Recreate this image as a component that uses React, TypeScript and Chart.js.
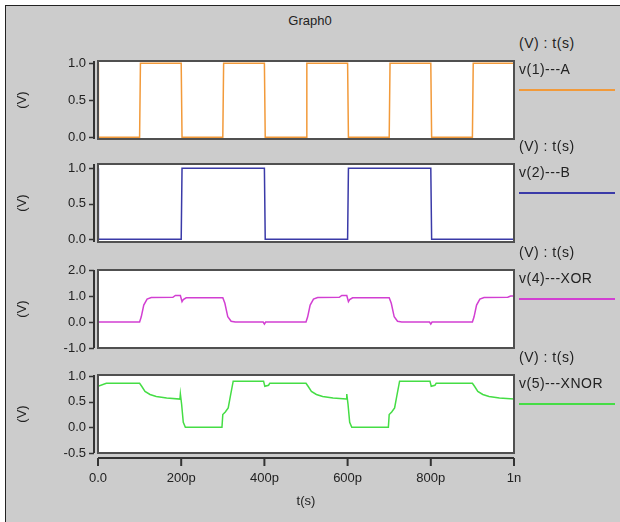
import React, { useEffect, useRef } from "react";
import { Chart, registerables } from "chart.js";
Chart.register(...registerables);

// ---- data (time in ps, values in V) ----
const timeTicks = [0, 200, 400, 600, 800, 1000];
const timeTickLabels = ["0.0", "200p", "400p", "600p", "800p", "1n"];

const aTime = [0, 1, 100, 102, 200, 202, 300, 302, 400, 402, 500, 502, 600, 602, 700, 702, 800, 802, 900, 902, 1000];
const aVolts = [1, 0, 0, 1, 1, 0, 0, 1, 1, 0, 0, 1, 1, 0, 0, 1, 1, 0, 0, 1, 1];

const bTime = [0, 1, 200, 202, 400, 402, 600, 602, 800, 802, 1000];
const bVolts = [1, 0, 0, 1, 1, 0, 0, 1, 1, 0, 0];

const xorTime = [
  0, 100, 104, 110, 118, 128, 180, 186, 198, 202, 205, 212,
  300, 305, 312, 320, 330, 397, 400, 403,
  500, 504, 510, 518, 528, 580, 586, 598, 602, 605, 612,
  700, 705, 712, 720, 730, 797, 800, 803,
  900, 904, 910, 918, 928, 985, 992, 1000,
];
const xorVolts = [
  0, 0, 0.2, 0.65, 0.88, 0.94, 0.95, 1.02, 1.02, 0.78, 0.86, 0.93,
  0.93, 0.72, 0.2, 0.03, 0, 0, -0.08, 0,
  0, 0.2, 0.65, 0.88, 0.94, 0.95, 1.02, 1.02, 0.78, 0.86, 0.93,
  0.93, 0.72, 0.2, 0.03, 0, 0, -0.08, 0,
  0, 0.2, 0.65, 0.88, 0.94, 0.95, 1.0, 1.0,
];

const xnorTime = [
  0, 20, 100, 105, 113, 125, 140, 165, 197, 198, 201, 205, 210,
  298, 300, 306, 313, 318, 325, 398, 401, 410, 413,
  500, 505, 513, 525, 540, 565, 597, 598, 601, 605, 610,
  698, 700, 706, 713, 718, 725, 798, 801, 810, 813,
  900, 905, 913, 925, 940, 965, 1000,
];
const xnorVolts = [
  0.8, 0.86, 0.86, 0.8, 0.7, 0.64, 0.6, 0.57, 0.55, 0.65, 0.45, 0.1, 0,
  0, 0.25, 0.3, 0.38, 0.6, 0.9, 0.9, 0.8, 0.82, 0.86,
  0.86, 0.8, 0.7, 0.64, 0.6, 0.57, 0.55, 0.65, 0.45, 0.1, 0,
  0, 0.25, 0.3, 0.38, 0.6, 0.9, 0.9, 0.8, 0.82, 0.86,
  0.86, 0.8, 0.7, 0.64, 0.6, 0.57, 0.55,
];

const yTicksAB = [0, 0.5, 1];
const yTickLabelsAB = ["0.0", "0.5", "1.0"];
const yTicksXor = [-1, 0, 1, 2];
const yTickLabelsXor = ["-1.0", "0.0", "1.0", "2.0"];
const yTicksXnor = [-0.5, 0, 0.5, 1];
const yTickLabelsXnor = ["-0.5", "0.0", "0.5", "1.0"];

const seriesNames = ["v(1)---A", "v(2)---B", "v(4)---XOR", "v(5)---XNOR"];
const seriesColors = ["#f29a3a", "#3a3aa8", "#d23fd2", "#45dd45"];

const FONT = "'Liberation Sans', Arial, Helvetica, sans-serif";
const TEXT = "#222222";

type PanelDef = {
  top: number;
  name: string;
  color: string;
  time: number[];
  volts: number[];
  yMin: number;
  yMax: number;
  yTicks: number[];
  yTickLabels: string[];
  showX: boolean;
};

const panels: PanelDef[] = [
  { top: 61, name: seriesNames[0], color: seriesColors[0], time: aTime, volts: aVolts, yMin: -0.025, yMax: 1.03, yTicks: yTicksAB, yTickLabels: yTickLabelsAB, showX: false },
  { top: 164, name: seriesNames[1], color: seriesColors[1], time: bTime, volts: bVolts, yMin: -0.04, yMax: 1.06, yTicks: yTicksAB, yTickLabels: yTickLabelsAB, showX: false },
  { top: 270, name: seriesNames[2], color: seriesColors[2], time: xorTime, volts: xorVolts, yMin: -1, yMax: 2, yTicks: yTicksXor, yTickLabels: yTickLabelsXor, showX: false },
  { top: 375, name: seriesNames[3], color: seriesColors[3], time: xnorTime, volts: xnorVolts, yMin: -0.5, yMax: 1.02, yTicks: yTicksXnor, yTickLabels: yTickLabelsXnor, showX: true },
];

const PANEL_H = 78;
const PAD = 10;
const X_AXIS_H = 62;

function framePlugin(showX: boolean) {
  return {
    id: "frame" + (showX ? "x" : ""),
    beforeDatasetsDraw(chart: any) {
      const { ctx, chartArea: a } = chart;
      ctx.save();
      ctx.fillStyle = "#ffffff";
      ctx.fillRect(a.left, a.top, a.right - a.left, a.bottom - a.top);
      ctx.restore();
    },
    afterDraw(chart: any) {
      const { ctx, chartArea: a, scales } = chart;
      ctx.save();
      ctx.strokeStyle = "#505050";
      ctx.lineWidth = 2;
      ctx.strokeRect(a.left, a.top, a.right - a.left, a.bottom - a.top);
      ctx.strokeStyle = "#333333";
      ctx.beginPath();
      ctx.moveTo(a.left - 4, a.top);
      ctx.lineTo(a.left - 4, a.bottom);
      ctx.stroke();
      ctx.lineWidth = 1.5;
      for (const t of scales.y.ticks) {
        const y = Math.round(scales.y.getPixelForValue(t.value)) + 0.5;
        ctx.beginPath();
        ctx.moveTo(a.left - 9, y);
        ctx.lineTo(a.left - 4, y);
        ctx.stroke();
      }
      if (showX) {
        const yAxis = a.bottom + 5;
        ctx.lineWidth = 2;
        ctx.beginPath();
        ctx.moveTo(a.left, yAxis);
        ctx.lineTo(a.right, yAxis);
        ctx.stroke();
        for (const t of scales.x.ticks) {
          const x = scales.x.getPixelForValue(t.value);
          ctx.beginPath();
          ctx.moveTo(x, yAxis);
          ctx.lineTo(x, yAxis + 8);
          ctx.stroke();
        }
      }
      ctx.restore();
    },
  };
}

function Panel({ def }: { def: PanelDef }) {
  const ref = useRef<HTMLCanvasElement>(null);
  const h = def.showX ? PANEL_H + PAD + X_AXIS_H : PANEL_H + 2 * PAD;
  useEffect(() => {
    const font = { family: FONT, size: 13 };
    const chart = new Chart(ref.current!, {
      type: "line",
      data: {
        datasets: [
          {
            data: def.time.map((t, i) => ({ x: t, y: def.volts[i] })),
            borderColor: def.color,
            borderWidth: 1.5,
            pointRadius: 0,
            tension: 0,
            fill: false,
          },
        ],
      },
      options: {
        animation: false,
        responsive: false,
        devicePixelRatio: 1,
        layout: { padding: { left: 0, right: 106, top: PAD, bottom: def.showX ? 0 : PAD } },
        plugins: { legend: { display: false }, tooltip: { enabled: false }, title: { display: false } },
        scales: {
          x: {
            type: "linear",
            min: 0,
            max: 1000,
            display: def.showX,
            afterBuildTicks: (s: any) => {
              s.ticks = timeTicks.map((v) => ({ value: v }));
            },
            afterFit: (s: any) => {
              s.height = def.showX ? X_AXIS_H : 0;
              s.paddingLeft = 0;
              s.paddingRight = 0;
              s.paddingTop = 0;
              s.paddingBottom = 0;
            },
            ticks: {
              callback: (_v: any, i: number) => timeTickLabels[i],
              padding: 18,
              font,
              color: TEXT,
              maxRotation: 0,
              autoSkip: false,
            },
            grid: { display: false, drawTicks: false },
            border: { display: false },
            title: { display: true, text: "t(s)", font, color: TEXT, padding: { top: 0, bottom: 6 } },
          },
          y: {
            type: "linear",
            min: def.yMin,
            max: def.yMax,
            afterBuildTicks: (s: any) => {
              s.ticks = def.yTicks.map((v) => ({ value: v }));
            },
            afterFit: (s: any) => {
              s.width = 98;
              s.paddingLeft = 0;
              s.paddingRight = 0;
              s.paddingTop = 0;
              s.paddingBottom = 0;
            },
            ticks: {
              callback: (_v: any, i: number) => def.yTickLabels[i],
              padding: 12,
              font,
              color: TEXT,
              autoSkip: false,
            },
            grid: { display: false, drawTicks: false },
            border: { display: false },
            title: { display: true, text: "(V)", font, color: TEXT, padding: { top: 15, bottom: 0 } },
          },
        },
      } as any,
      plugins: [framePlugin(def.showX)],
    });
    return () => chart.destroy();
  }, []);
  return (
    <canvas
      ref={ref}
      width={620}
      height={h}
      style={{ position: "absolute", left: 0, top: def.top - PAD, width: 620, height: h, display: "block" }}
    />
  );
}

function Label({ x, y, text, size = 14 }: { x: number; y: number; text: string; size?: number }) {
  return (
    <div
      style={{
        position: "absolute",
        left: x,
        top: y,
        transform: "translateY(-50%)",
        fontFamily: FONT,
        fontSize: size,
        letterSpacing: 0.5,
        color: TEXT,
        whiteSpace: "nowrap",
        lineHeight: 1,
      }}
    >
      {text}
    </div>
  );
}

export default function App() {
  return (
    <div style={{ position: "fixed", left: 0, top: 0, width: 620, height: 522, background: "#ffffff", overflow: "hidden" }}>
      <div
        style={{
          position: "absolute",
          left: 5,
          top: 5,
          right: 0,
          bottom: 0,
          background: "#cccccc",
          borderLeft: "1px solid #222",
          borderTop: "1px solid #222",
        }}
      />
      <div
        style={{
          position: "absolute",
          left: 0,
          width: 620,
          top: 20,
          transform: "translateY(-50%)",
          textAlign: "center",
          fontFamily: FONT,
          fontSize: 13,
          color: TEXT,
          lineHeight: 1,
        }}
      >
        Graph0
      </div>
      {panels.map((p, i) => (
        <Panel key={i} def={p} />
      ))}
      {panels.map((p, i) => (
        <React.Fragment key={"l" + i}>
          <Label x={519} y={p.top - 18} text="(V) : t(s)" />
          <Label x={519} y={p.top + 8} text={p.name} />
          <div
            style={{
              position: "absolute",
              left: 519,
              width: 96,
              top: p.top + 28,
              height: 1.5,
              background: p.color,
            }}
          />
        </React.Fragment>
      ))}
    </div>
  );
}
